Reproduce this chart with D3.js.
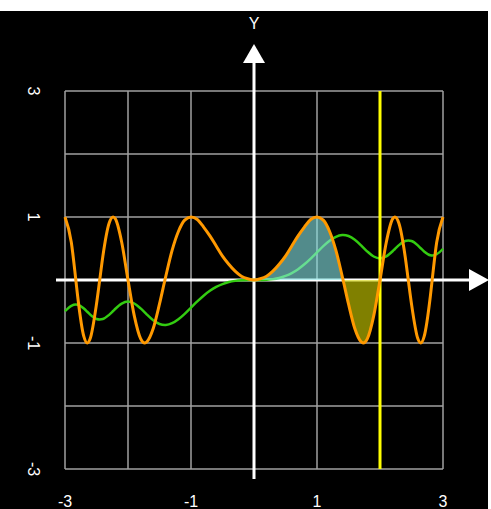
<!DOCTYPE html>
<html>
<head>
<meta charset="utf-8">
<script src="https://cdn.jsdelivr.net/npm/d3@7"></script>
<style>
html,body{margin:0;padding:0;background:#fff;}
svg{display:block;}
text{font-family:"Liberation Sans",Arial,sans-serif;fill:#fff;}
</style>
</head>
<body>
<svg id="chart" width="491" height="509"></svg>
<script>
// x positions (0.1 steps plus visible zeros/extrema)
const xsPos = [0,0.1,0.2,0.3,0.4,0.5,0.6,0.7,0.8,0.9,1.0,1.1,1.2,1.3,1.4,1.414,1.5,1.6,1.7,1.732,1.8,1.9,2.0,2.1,2.2,2.236,2.3,2.4,2.449,2.5,2.6,2.646,2.7,2.8,2.828,2.9,3.0];
// orange curve (even)
const orangePos = [0,0.02,0.06,0.14,0.25,0.38,0.54,0.70,0.84,0.96,1.00,0.95,0.77,0.47,0.06,0,-0.38,-0.77,-0.98,-1,-0.93,-0.57,0,0.60,0.97,1,0.90,0.37,0,-0.38,-0.93,-1,-0.90,-0.25,0,0.60,1.00];
// green curve (odd)
const greenPos = [0,0.0005,0.004,0.014,0.033,0.065,0.11,0.172,0.249,0.34,0.438,0.537,0.623,0.686,0.7135,0.714,0.698,0.639,0.549,0.517,0.451,0.373,0.343,0.374,0.456,0.492,0.553,0.620,0.627,0.619,0.550,0.504,0.453,0.392,0.389,0.410,0.496];

const xTicks = [-3,-1,1,3];
const yTicks = [3,1,-1,-3];
const gridVals = [-3,-2,-1,0,1,2,3];
const markerX = 2;
const shadeRange = [0,2];

const orangeData = [], greenData = [];
for (let i = xsPos.length-1; i > 0; i--) {
  orangeData.push({x:-xsPos[i], y:orangePos[i]});
  greenData.push({x:-xsPos[i], y:-greenPos[i]});
}
for (let i = 0; i < xsPos.length; i++) {
  orangeData.push({x:xsPos[i], y:orangePos[i]});
  greenData.push({x:xsPos[i], y:greenPos[i]});
}

const svg = d3.select("#chart");
svg.append("rect").attr("x",0).attr("y",11).attr("width",488).attr("height",498).attr("fill","#000");
const x = d3.scaleLinear().domain([-3,3]).range([65,443]);
const y = d3.scaleLinear().domain([-3,3]).range([469,91]);

// grid
const g = svg.append("g");
g.selectAll(".v").data(gridVals).enter().append("line")
  .attr("x1",d=>x(d)).attr("x2",d=>x(d)).attr("y1",y(3)).attr("y2",y(-3))
  .attr("stroke","#a0a0a0").attr("stroke-width",1.5);
g.selectAll(".h").data(gridVals).enter().append("line")
  .attr("x1",x(-3)).attr("x2",x(3)).attr("y1",d=>y(d)).attr("y2",d=>y(d))
  .attr("stroke","#a0a0a0").attr("stroke-width",1.5);

// axes
svg.append("line").attr("x1",56).attr("x2",472).attr("y1",y(0)).attr("y2",y(0))
  .attr("stroke","#fff").attr("stroke-width",3);
svg.append("path").attr("d",`M${489},${y(0)} L${469},${y(0)-11} L${469},${y(0)+11} Z`).attr("fill","#fff");
svg.append("line").attr("x1",x(0)).attr("x2",x(0)).attr("y1",479).attr("y2",60)
  .attr("stroke","#fff").attr("stroke-width",3);
svg.append("path").attr("d",`M${x(0)},44 L${x(0)-11},63 L${x(0)+11},63 Z`).attr("fill","#fff");
svg.append("text").attr("x",x(0)).attr("y",29).attr("text-anchor","middle")
  .attr("font-size",16).text("Y");

const curve = d3.curveMonotoneX;
const line = d3.line().x(d=>x(d.x)).y(d=>y(d.y)).curve(curve);

// green line
svg.append("path").datum(greenData).attr("d",line)
  .attr("fill","none").attr("stroke","#33cc11").attr("stroke-width",2.5);

// shaded areas
const defs = svg.append("defs");
defs.append("clipPath").attr("id","above").append("rect")
  .attr("x",0).attr("y",0).attr("width",491).attr("height",y(0));
defs.append("clipPath").attr("id","below").append("rect")
  .attr("x",0).attr("y",y(0)).attr("width",491).attr("height",509-y(0));
const shadeData = orangeData.filter(d=>d.x>=shadeRange[0] && d.x<=shadeRange[1]);
const area = d3.area().x(d=>x(d.x)).y0(y(0)).y1(d=>y(d.y)).curve(curve);
svg.append("path").datum(shadeData).attr("d",area).attr("clip-path","url(#above)")
  .attr("fill","#88e8e8").attr("fill-opacity",0.6);
svg.append("path").datum(shadeData).attr("d",area).attr("clip-path","url(#below)")
  .attr("fill","#d5d500").attr("fill-opacity",0.6);

// yellow marker
svg.append("line").attr("x1",x(markerX)).attr("x2",x(markerX)).attr("y1",y(3)).attr("y2",y(-3))
  .attr("stroke","#ffff00").attr("stroke-width",3);

// orange line
svg.append("path").datum(orangeData).attr("d",line)
  .attr("fill","none").attr("stroke","#ff9900").attr("stroke-width",3);

// tick labels
svg.selectAll(".xt").data(xTicks).enter().append("text")
  .attr("x",d=>x(d)).attr("y",507).attr("text-anchor","middle").attr("font-size",16)
  .text(d=>d);
svg.selectAll(".yt").data(yTicks).enter().append("text")
  .attr("transform",d=>`translate(34,${y(d)}) rotate(90)`)
  .attr("text-anchor","middle").attr("dy","0.35em").attr("font-size",16)
  .text(d=>d);
</script>
</body>
</html>
